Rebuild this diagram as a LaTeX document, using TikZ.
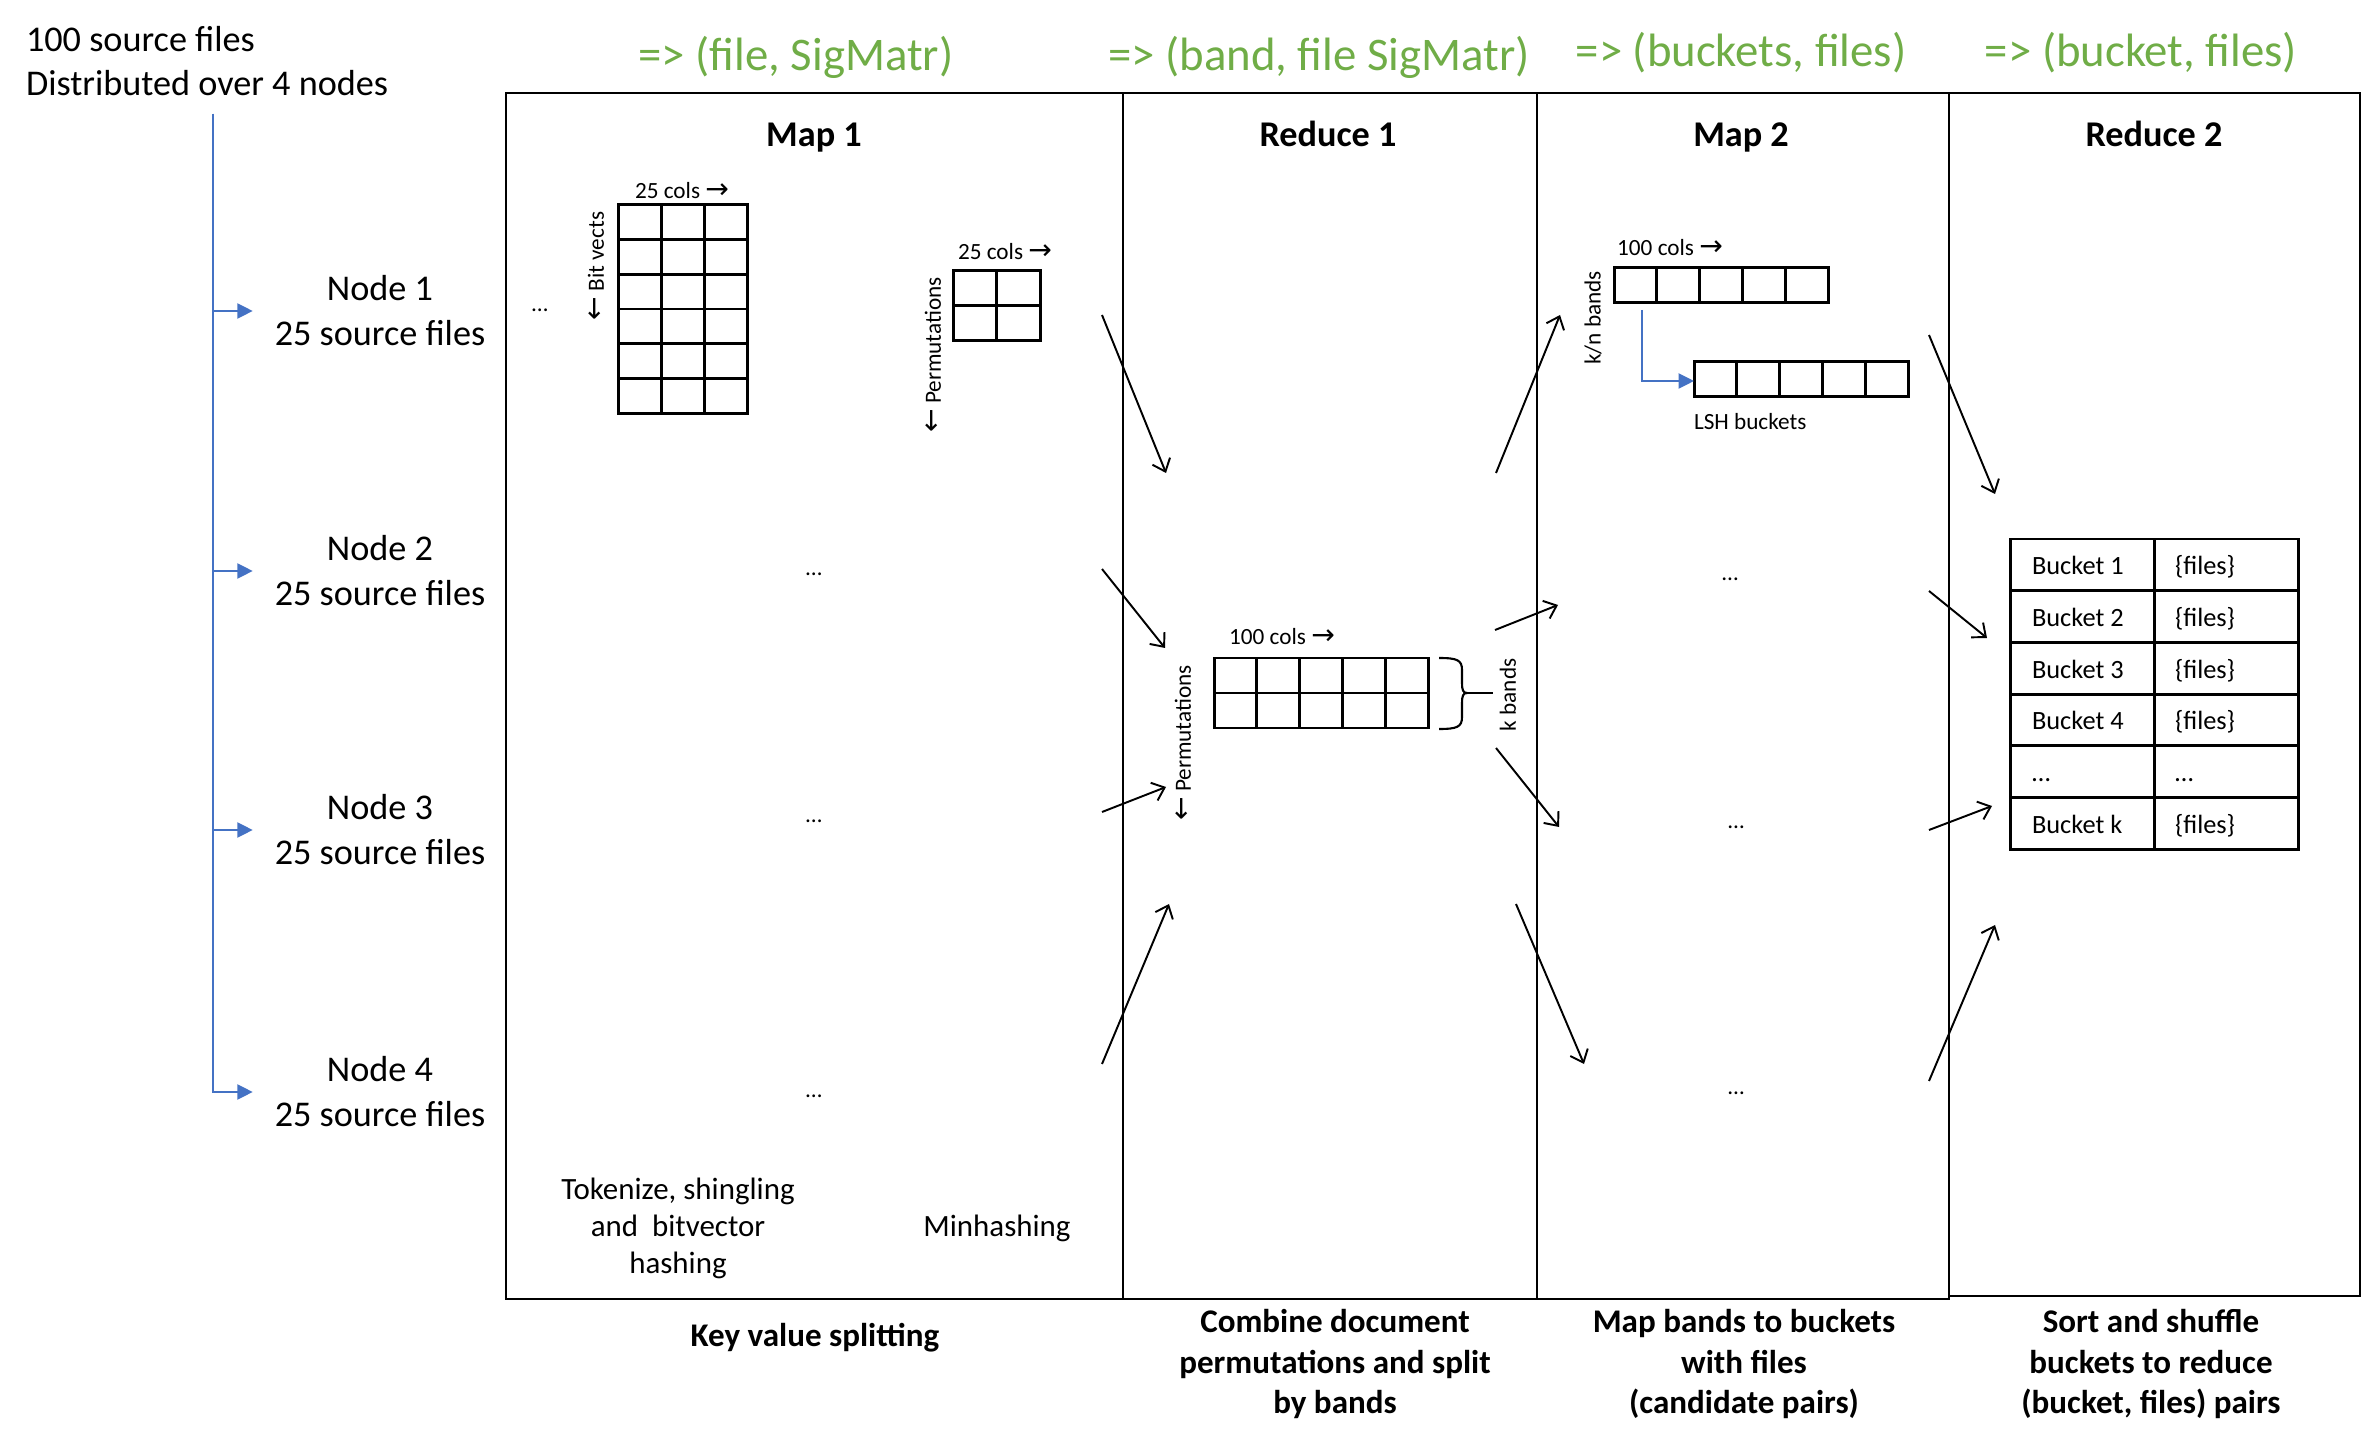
\documentclass[tikz,border=0pt]{standalone}
\usepackage{fontspec}
\setmainfont{Carlito}
\newfontfamily\symfont{DejaVu Sans}
\usetikzlibrary{arrows.meta}
\definecolor{hdrgreen}{RGB}{112,173,71}
\definecolor{nodeblue}{RGB}{68,114,196}
\newcommand{\rarr}{{\symfont\fontsize{8}{8}\selectfont\char"2192}}
\newcommand{\larr}{{\symfont\fontsize{8}{8}\selectfont\char"2190}}
\begin{document}
\begin{tikzpicture}[x=0.01cm,y=-0.01cm,
  every node/.style={inner sep=0pt, outer sep=0pt},
  hdr/.style={font=\fontsize{13.3}{16}\selectfont, text=hdrgreen, anchor=base},
  coltitle/.style={font=\bfseries\fontsize{10.3}{12.4}\selectfont, anchor=base},
  caption/.style={font=\bfseries\fontsize{9.4}{11.4}\selectfont, align=center},
  srcnode/.style={font=\fontsize{10.3}{12.8}\selectfont, align=center, inner xsep=0.22cm},
  tiny/.style={font=\fontsize{6.6}{8}\selectfont},
  note/.style={font=\fontsize{8.8}{10.5}\selectfont, align=center},
  celltxt/.style={font=\fontsize{7.5}{9}\selectfont, anchor=base west},
  frame/.style={line width=0.6pt},
  gridline/.style={line width=0.85pt},
  flow/.style={line width=0.55pt, -{Straight Barb[length=3.2pt,width=5.4pt]}},
  bluearrow/.style={draw=nodeblue, line width=0.6pt, -{Triangle[length=4.4pt,width=4.3pt]}},
]
\useasboundingbox (0,0) rectangle (2363,1440);

% ---------- frames ----------
\draw[frame] (506,93) rectangle (1949,1299);
\draw[frame] (1123,93) -- (1123,1299);
\draw[frame] (1537,93) -- (1537,1299);
\draw[frame] (1949,93) rectangle (2360,1296);

% ---------- left side ----------
\node[font=\fontsize{10.3}{12.5}\selectfont, align=left, anchor=west] (intro) at (26,61) {100 source files\\Distributed over 4 nodes};
\coordinate (treetop) at (213,114);
\node[srcnode] (n1) at (380,311) {Node 1\\25 source files};
\node[srcnode] (n2) at (380,571) {Node 2\\25 source files};
\node[srcnode] (n3) at (380,830) {Node 3\\25 source files};
\node[srcnode] (n4) at (380,1092) {Node 4\\25 source files};
\foreach \n in {n1,n2,n3,n4} \draw[bluearrow] (treetop) |- (\n.west);

% ---------- green headers ----------
\node[hdr] (h1) at (796,71) {=> (file, SigMatr)};
\node[hdr] (h2) at (1319,71) {=> (band, file SigMatr)};
\node[hdr] (h3) at (1741,67) {=> (buckets, files)};
\node[hdr] (h4) at (2141,67) {=> (bucket, files)};

% ---------- column titles ----------
\node[coltitle] (t1) at (814,147) {Map 1};
\node[coltitle] (t2) at (1328,147) {Reduce 1};
\node[coltitle] (t3) at (1741,147) {Map 2};
\node[coltitle] (t4) at (2154,147) {Reduce 2};

% ---------- Map 1 ----------
\foreach \i in {0,1,2} \foreach \j in {0,...,5}
  \draw[gridline] ({618+\i*43},{205+\j*34.67}) rectangle ++(43,34.67);
\node[tiny] (bvcols) at (682,191) {25 cols \rarr};
\node[tiny, rotate=90] (bv) at (596,266) {\larr\ Bit vects};
\node[tiny] (d0) at (540,310) {…};
\foreach \i in {0,1} \foreach \j in {0,1}
  \draw[gridline] ({953+\i*43.5},{271+\j*35}) rectangle ++(43.5,35);
\node[tiny] (mhcols) at (1005,252) {25 cols \rarr};
\node[tiny, rotate=90] (mhperm) at (933,355) {\larr\ Permutations};
\node[tiny] (d1) at (814,574) {…};
\node[tiny] (d2) at (814,821) {…};
\node[tiny] (d3) at (814,1096) {…};
\node[note] (tok) at (678,1228) {Tokenize, shingling\\and\ \ bitvector\\hashing};
\node[note] (minh) at (997,1228) {Minhashing};

% ---------- Reduce 1 ----------
\foreach \i in {0,...,4} \foreach \j in {0,1}
  \draw[gridline] ({1214+\i*42.8},{658+\j*35}) rectangle ++(42.8,35);
\node[tiny] (r1cols) at (1282,637) {100 cols \rarr};
\node[tiny, rotate=90] (r1perm) at (1183,743) {\larr\ Permutations};
\draw[line width=0.6pt] (1439,658) .. controls (1457,658) and (1462,660) .. (1462,670) -- (1462,683)
  .. controls (1462,690) and (1463,693) .. (1467,693)
  .. controls (1463,693) and (1462,696) .. (1462,703) -- (1462,717)
  .. controls (1462,727) and (1457,729) .. (1439,729);
\coordinate (bracetip) at (1467,693);
\coordinate (braceend) at (1493,693);
\draw[line width=0.6pt] (bracetip) -- (braceend);
\node[tiny, rotate=90] (kb) at (1508,695) {k bands};

% ---------- Map 2 ----------
\foreach \i in {0,...,4}
  \draw[gridline] ({1614+\i*42.8},268) rectangle ++(42.8,35);
\node[tiny] (m2cols) at (1670,248) {100 cols \rarr};
\node[tiny, rotate=90] (knb) at (1593,318) {k/n bands};
\foreach \i in {0,...,4}
  \draw[gridline] ({1694+\i*42.8},362) rectangle ++(42.8,35);
\coordinate (bandout) at (1642,310);
\coordinate (lshin) at (1694,381);
\draw[bluearrow] (bandout) |- (lshin);
\node[tiny, anchor=west] (lsh) at (1694,422) {LSH buckets};
\node[tiny] (d4) at (1730,579) {…};
\node[tiny] (d5) at (1736,827) {…};
\node[tiny] (d6) at (1736,1093) {…};

% ---------- Reduce 2 table ----------
\foreach \j in {0,...,5} {
  \draw[gridline] (2010,{539+\j*51.67}) rectangle (2154,{539+(\j+1)*51.67});
  \draw[gridline] (2154,{539+\j*51.67}) rectangle (2298,{539+(\j+1)*51.67});
}
\node[celltxt] (b1) at (2032,575) {Bucket 1};
\node[celltxt] (f1) at (2175,575) {\{files\}};
\node[celltxt] (b2) at (2032,626.7) {Bucket 2};
\node[celltxt] (f2) at (2175,626.7) {\{files\}};
\node[celltxt] (b3) at (2032,678.3) {Bucket 3};
\node[celltxt] (f3) at (2175,678.3) {\{files\}};
\node[celltxt] (b4) at (2032,730) {Bucket 4};
\node[celltxt] (f4) at (2175,730) {\{files\}};
\node[celltxt] (b5) at (2032,781.7) {…};
\node[celltxt] (f5) at (2175,781.7) {…};
\node[celltxt] (bk) at (2032,833.3) {Bucket k};
\node[celltxt] (fk) at (2175,833.3) {\{files\}};

% ---------- flow arrows ----------
\coordinate (a1s) at (1102,315);  \coordinate (a1e) at (1166,473);
\coordinate (a2s) at (1102,569);  \coordinate (a2e) at (1165,648);
\coordinate (a3s) at (1102,812);  \coordinate (a3e) at (1166,787);
\coordinate (a4s) at (1102,1064); \coordinate (a4e) at (1169,904);
\coordinate (b1s) at (1496,473);  \coordinate (b1e) at (1560,315);
\coordinate (b2s) at (1495,630);  \coordinate (b2e) at (1558,605);
\coordinate (b3s) at (1496,748);  \coordinate (b3e) at (1559,827);
\coordinate (b4s) at (1516,904);  \coordinate (b4e) at (1584,1064);
\coordinate (c1s) at (1929,335);  \coordinate (c1e) at (1995,494);
\coordinate (c2s) at (1929,591);  \coordinate (c2e) at (1987,638);
\coordinate (c3s) at (1929,830);  \coordinate (c3e) at (1992,806);
\coordinate (c4s) at (1929,1081); \coordinate (c4e) at (1995,925);
\foreach \p in {a1,a2,a3,a4,b1,b2,b3,b4,c1,c2,c3,c4}
  \draw[flow] (\p s) -- (\p e);

% ---------- captions ----------
\node[caption] (cap1) at (815,1338) {Key value splitting};
\node[caption] (cap2) at (1335,1364) {Combine document\\permutations and split\\by bands};
\node[caption] (cap3) at (1744,1364) {Map bands to buckets\\with files\\(candidate pairs)};
\node[caption] (cap4) at (2151,1364) {Sort and shuffle\\buckets to reduce\\(bucket, files) pairs};
\end{tikzpicture}
\end{document}
